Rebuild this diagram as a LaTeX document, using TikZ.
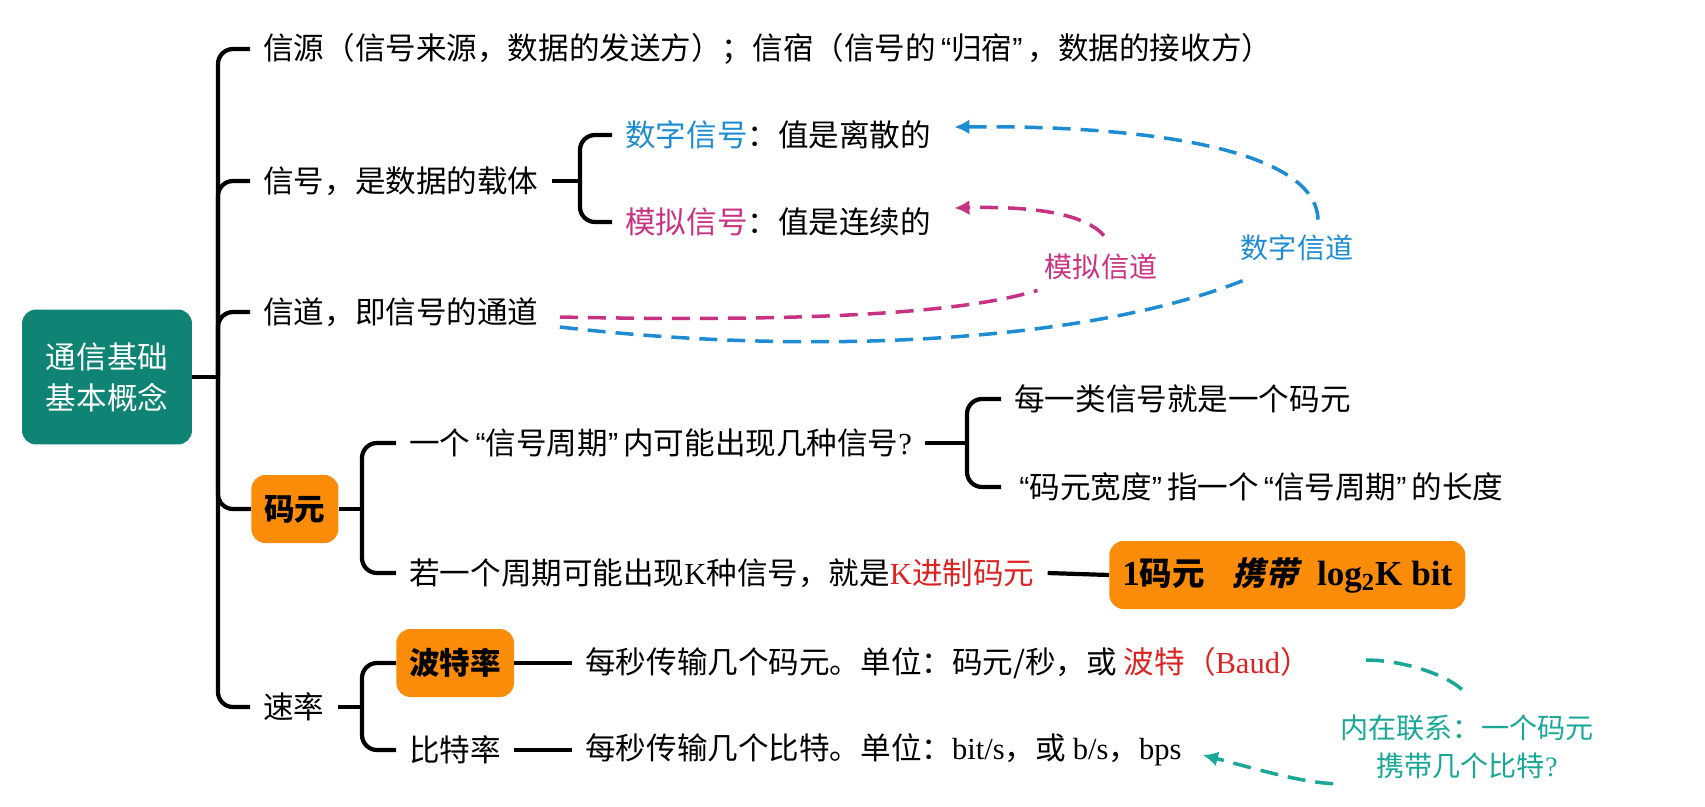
\documentclass[tikz,border=0pt]{standalone}
\usepackage{fontspec}
\usepackage{xcolor}
\usetikzlibrary{arrows.meta}
\setmainfont{Noto Sans CJK SC}
\newfontfamily\latin{Liberation Serif}
\newfontfamily\qfont{Liberation Sans}
\newfontfamily\cjkslant[FakeSlant=0.25]{Noto Sans CJK SC}
\newcommand\qq[1]{{\qfont\,“}#1{\qfont ”\,}}
\definecolor{rootteal}{RGB}{16,132,116}
\definecolor{hotorange}{RGB}{250,140,10}
\definecolor{digblue}{RGB}{30,140,210}
\definecolor{anamag}{RGB}{200,50,130}
\definecolor{kred}{RGB}{220,35,35}
\definecolor{hintteal}{RGB}{25,168,152}

\begin{document}
\begin{tikzpicture}[
      x=0.02cm, y=-0.02cm,
      rootbox/.style={
          fill=rootteal, text=white, rounded corners=8pt,
          minimum width=3.4cm, minimum height=2.7cm,
          align=center, font=\fontsize{17.4}{23.3}\selectfont
      },
      hotbox/.style={
          fill=hotorange, text=black, rounded corners=8pt,
          inner xsep=0.26cm, minimum height=1.36cm, anchor=west,
          font=\fontsize{17.4}{20}\selectfont\bfseries
      },
      leaf/.style={
          inner xsep=0.26cm, inner ysep=2pt, anchor=west,
          font=\fontsize{17.4}{20}\selectfont
      },
      tag/.style={
          inner sep=0.08cm, font=\fontsize{16}{22}\selectfont
      },
      link/.style={
          draw=black, line width=2.4pt, rounded corners=0.3cm
      },
      chanline/.style={
          line width=2pt, dash pattern=on 0.36cm off 0.2cm
      },
      tipped/.style={
          -{Latex[length=0.3cm,width=0.3cm]}
      }
  ]
      \useasboundingbox (0,0) rectangle (1705,806);

      % Racine
      \node[rootbox] (root) at (107,377) {通信基础\\基本概念};
      \coordinate (trunk) at (218,377);

      % Premier niveau
      \node[leaf] (src) at (250,49) {信源（信号来源，数据的发送方）；信宿（信号的\qq{归宿}，数据的接收方）};
      \node[leaf] (sig) at (250,181) {信号，是数据的载体};
      \node[leaf] (chan) at (250,312) {信道，即信号的通道};
      \node[hotbox] (sym) at (251,509) {码元};
      \node[leaf] (rate) at (250,707) {速率};

      % Signaux
      \node[leaf] (digi) at (612,135) {\textcolor{digblue}{数字信号}：值是离散的};
      \node[leaf] (anal) at (612,222) {\textcolor{anamag}{模拟信号}：值是连续的};
      \coordinate (sigfork) at (580,181);

      % Codes
      \node[leaf] (symq) at (396,443) {一个\qq{信号周期}内可能出现几种信号{\latin ?}};
      \node[leaf] (symk) at (396,573) {若一个周期可能出现{\latin K}种信号，就是\textcolor{kred}{{\latin K}进制码元}};
      \node[leaf] (symone) at (1001,399) {每一类信号就是一个码元};
      \node[leaf] (symwide) at (1001,487) {\qq{码元宽度}指一个\qq{信号周期}的长度};
      \node[hotbox, font=\fontsize{18.5}{20}\selectfont\bfseries] (symbits) at (1109,575) {{\latin\fontsize{20}{20}\selectfont\bfseries 1}码元\hspace{0.85em}{\cjkslant\bfseries 携带}\hspace{0.6em}{\latin\fontsize{20}{20}\selectfont\bfseries log\textsubscript{2}K bit}};
      \coordinate (symfork) at (362,509);
      \coordinate (qfork) at (967,443);

      % Débits
      \node[hotbox] (baud) at (396,663) {波特率};
      \node[leaf] (baudtxt) at (572,663) {每秒传输几个码元。单位：码元/秒，或 \textcolor{kred}{波特（{\latin Baud}）}};
      \node[leaf] (bitr) at (396,750) {比特率};
      \node[leaf] (bitrtxt) at (572,750) {每秒传输几个比特。单位：{\latin bit/s}，或 {\latin b/s}，{\latin bps}};
      \coordinate (ratefork) at (362,707);

      % Etiquettes
      \node[tag, text=anamag] (analabel) at (1101,267) {模拟信道};
      \node[tag, text=digblue] (diglabel) at (1297,248) {数字信道};
      \node[tag, text=hintteal, align=center] (hint) at (1467,747) {内在联系：一个码元\\携带几个比特{\latin ?}};

      % Lignes de liaison
      \draw[link] (root.east) -- (trunk);
      \draw[link] (trunk) |- (src.west);
      \draw[link] (trunk) |- (sig.west);
      \draw[link] (trunk) |- (chan.west);
      \draw[link] (trunk) |- (sym.west);
      \draw[link] (trunk) |- (rate.west);

      \draw[link] (sig.east) -- (sigfork);
      \draw[link] (sigfork) |- (digi.west);
      \draw[link] (sigfork) |- (anal.west);

      \draw[link] (sym.east) -- (symfork);
      \draw[link] (symfork) |- (symq.west);
      \draw[link] (symfork) |- (symk.west);
      \draw[link] (symq.east) -- (qfork);
      \draw[link] (qfork) |- (symone.west);
      \draw[link] (qfork) |- (symwide.west);
      \draw[link] (symk.east) -- (symbits.west);

      \draw[link] (rate.east) -- (ratefork);
      \draw[link] (ratefork) |- (baud.west);
      \draw[link] (ratefork) |- (bitr.west);
      \draw[link] (baud.east) -- (baudtxt.west);
      \draw[link] (bitr.east) -- (bitrtxt.west);

      % Canaux en pointillés
      \draw[chanline, anamag] ([shift={(8,5)}]chan.east) .. controls (800,322) and (960,314) .. ([shift={(-3,6)}]analabel.south west);
      \draw[chanline, anamag, tipped] ([shift={(3,-14)}]analabel.north) .. controls (1085,214) and (1035,206) .. ([shift={(10,-14)}]anal.east);
      \draw[chanline, digblue] ([shift={(8,15)}]chan.east) .. controls (800,355) and (1080,345) .. ([shift={(7,15)}]diglabel.south west);
      \draw[chanline, digblue, tipped] ([shift={(21,-11)}]diglabel.north) .. controls (1316,150) and (1150,125) .. ([shift={(10,-8)}]digi.east);

      % Lien interne
      \draw[chanline, hintteal] ([shift={(42,-3)}]baudtxt.east) .. controls (1405,660) and (1455,677) .. ([shift={(0,-15)}]hint.north);
      \draw[chanline, hintteal, tipped] ([shift={(-3,0)}]hint.south west) .. controls (1300,782) and (1260,770) .. ([shift={(8,5)}]bitrtxt.east);
  \end{tikzpicture}
\end{document}
